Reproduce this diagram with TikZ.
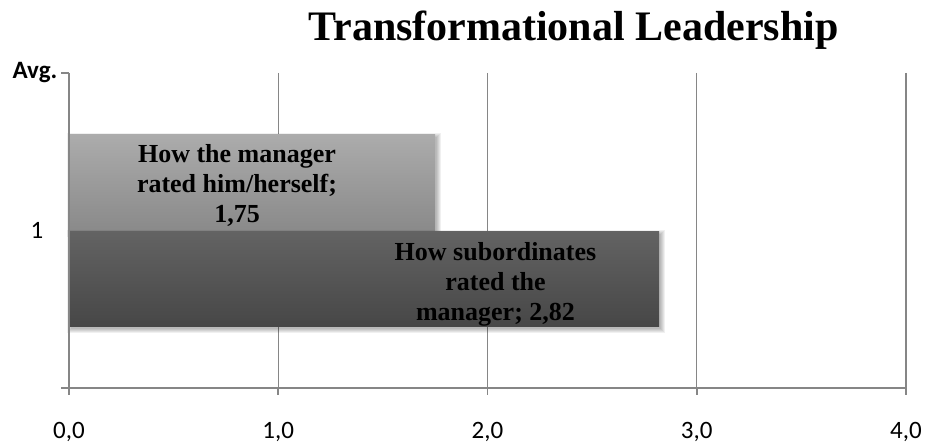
\documentclass[tikz,border=0pt]{standalone}
\usepackage{fontspec}
\setmainfont{Liberation Serif}
\newfontfamily\axisfont{Carlito}
\definecolor{gridgray}{HTML}{868686}
\definecolor{lighttop}{HTML}{ACACAC}
\definecolor{lightbot}{HTML}{8A8A8A}
\definecolor{darktop}{HTML}{636363}
\definecolor{darkbot}{HTML}{474747}
\tikzset{
  gridline/.style={draw=gridgray, line width=1.4pt},
  axisline/.style={draw=gridgray, line width=1.6pt},
  ticklabel/.style={font=\axisfont\fontsize{25}{30}\selectfont, inner sep=0pt, anchor=base},
  barlabel/.style={font=\bfseries\fontsize{26}{30}\selectfont, inner sep=0pt, anchor=base},
  titletext/.style={font=\bfseries\fontsize{42}{48}\selectfont, inner sep=0pt, anchor=base},
}
\newcommand{\softshadow}[4]{%
  \foreach \k in {0,1,2,3,4}{
    \fill[black, opacity=0.06] (#1+\k-2,#2+\k-1) rectangle (#3+6-\k,#4+7-\k);
  }%
}
\begin{document}
\begin{tikzpicture}[x=1pt,y=-1pt]
\useasboundingbox[fill=white] (0,0) rectangle (926,444);
% title
\node[titletext] (title) at (573.5,40.7) {Transformational Leadership};
% gridlines
\foreach \gx in {278.25,487.5,696.75,906}{
  \draw[gridline] (\gx,73) -- (\gx,388);
}
% bars
\softshadow{69}{134}{435}{230}
\fill[top color=lighttop, bottom color=lightbot] (69,134) rectangle (435,230);
\softshadow{69}{231}{659}{326}
\fill[top color=darktop, bottom color=darkbot] (69,231) rectangle (659,326);
% axes
\coordinate (o) at (69,388);
\coordinate (ytop) at (69,73);
\coordinate (xend) at (906,388);
\draw[axisline] (ytop) -- (o) -- (xend);
\draw[axisline] (61,73) -- (ytop);
\draw[axisline] (61,388) -- (o);
\foreach \gx in {69,278.25,487.5,696.75,906}{
  \draw[axisline] (\gx,388) -- (\gx,395);
}
% tick labels
\node[ticklabel] (x0) at (69,438) {0,0};
\node[ticklabel] (x1) at (278.25,438) {1,0};
\node[ticklabel] (x2) at (487.5,438) {2,0};
\node[ticklabel] (x3) at (696.75,438) {3,0};
\node[ticklabel, anchor=base east] (x4) at (922,438) {4,0};
\node[ticklabel, anchor=base east] (cat1) at (43.5,238) {1};
\node[ticklabel, anchor=base east, font=\axisfont\bfseries\fontsize{25}{30}\selectfont] (avg) at (57.5,78) {Avg.};
% bar labels
\node[barlabel] (la) at (237,162) {How the manager};
\node[barlabel] (lb) at (237,192) {rated him/herself;};
\node[barlabel] (lc) at (237,222) {1,75};
\node[barlabel] (da) at (495.5,260) {How subordinates};
\node[barlabel] (db) at (495.5,290) {rated the};
\node[barlabel] (dc) at (495.5,320) {manager; 2,82};
\end{tikzpicture}
\end{document}
